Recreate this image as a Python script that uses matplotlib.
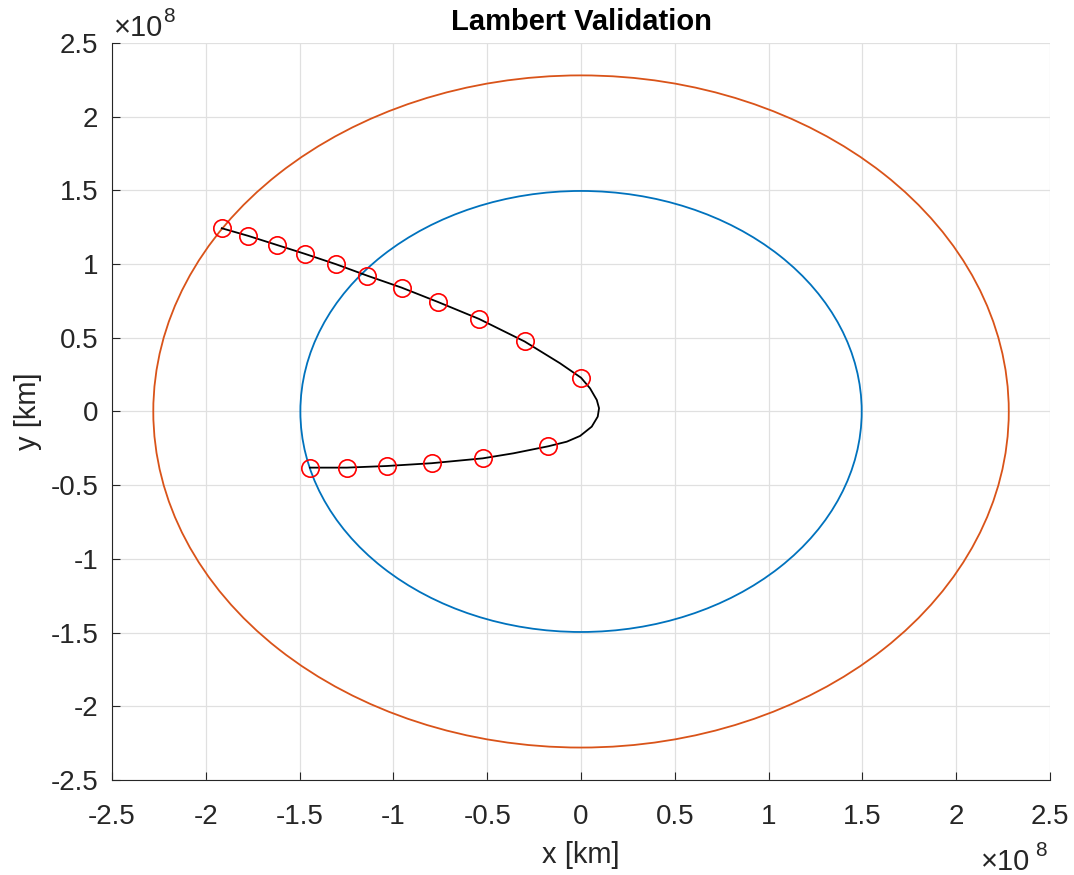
import matplotlib
matplotlib.use("Agg")
import matplotlib.pyplot as plt
from matplotlib.patches import Circle

# orbit radii [km]
EARTH_R = 1.496e8
MARS_R = 2.28e8

# transfer arc, units of 1e8 km
ARC_X = [-1.915, -1.773, -1.622, -1.471, -1.306, -1.139, -0.956, -0.763, -0.544, -0.301,
         -0.112, 0.0, 0.048, 0.084, 0.096, 0.089, 0.057, -0.005, -0.076, -0.174,
         -0.361, -0.524, -0.796, -1.036, -1.249, -1.445]
ARC_Y = [1.243, 1.191, 1.130, 1.069, 0.999, 0.921, 0.840, 0.743, 0.628, 0.475,
         0.327, 0.229, 0.157, 0.078, 0.022, -0.035, -0.103, -0.166, -0.205, -0.236,
         -0.284, -0.318, -0.351, -0.370, -0.381, -0.381]

# propagated check points, units of 1e8 km
CHECK_X = [-1.915, -1.773, -1.622, -1.471, -1.306, -1.139, -0.956, -0.763, -0.544, -0.301,
           0.0, -0.174, -0.524, -0.796, -1.036, -1.249, -1.445]
CHECK_Y = [1.243, 1.191, 1.130, 1.069, 0.999, 0.921, 0.840, 0.743, 0.628, 0.475,
           0.229, -0.236, -0.318, -0.351, -0.370, -0.381, -0.381]

TICKS = [-2.5, -2, -1.5, -1, -0.5, 0, 0.5, 1, 1.5, 2, 2.5]
TICK_LABELS = ["%g" % t for t in TICKS]
SCALE = 1e8
TEXT = "#262626"
W, H = 1074, 875

plt.rcParams["font.family"] = ["Liberation Sans", "DejaVu Sans"]
plt.rcParams["axes.unicode_minus"] = False

fig = plt.figure(figsize=(W / 100, H / 100), dpi=100)
ax = fig.add_axes([0.1043, 0.1086, 0.8734, 0.8423])

ax.add_patch(Circle((0, 0), EARTH_R, fill=False, color="#0072BD", lw=1.3))
ax.add_patch(Circle((0, 0), MARS_R, fill=False, color="#D95319", lw=1.3))

ax.plot([v * SCALE for v in ARC_X], [v * SCALE for v in ARC_Y], color="black", lw=1.3)
ax.plot([v * SCALE for v in CHECK_X], [v * SCALE for v in CHECK_Y], "o", ms=12.5,
        mfc="none", mec="red", mew=1.2)

ax.set_xlim(-2.5 * SCALE, 2.5 * SCALE)
ax.set_ylim(-2.5 * SCALE, 2.5 * SCALE)
ax.set_xticks([t * SCALE for t in TICKS])
ax.set_yticks([t * SCALE for t in TICKS])
ax.set_xticklabels(TICK_LABELS)
ax.set_yticklabels(TICK_LABELS)

ax.grid(True, color="#E0E0E0", lw=0.9)
ax.set_axisbelow(True)
for side in ["top", "right"]:
    ax.spines[side].set_visible(False)
for side in ["left", "bottom"]:
    ax.spines[side].set_color(TEXT)
ax.tick_params(direction="in", length=6, labelsize=20, colors=TEXT)
ax.tick_params(axis="x", pad=17)
ax.tick_params(axis="y", pad=10)

ax.set_xlabel("x [km]", fontsize=21, color=TEXT, labelpad=8)
ax.set_ylabel("y [km]", fontsize=21, color=TEXT, labelpad=6)
ax.set_title("Lambert Validation", fontsize=21, fontweight="bold", pad=9)

# exponent labels, placed like the MATLAB ones
fig.text(114 / W, 1 - 36 / H, "×10", fontsize=21, color=TEXT, ha="left", va="baseline")
fig.text(163 / W, 1 - 22 / H, "8", fontsize=15, color=TEXT, ha="left", va="baseline")
fig.text(1030 / W, 1 - 870 / H, "×10", fontsize=21, color=TEXT, ha="right", va="baseline")
fig.text(1035 / W, 1 - 856 / H, "8", fontsize=15, color=TEXT, ha="left", va="baseline")

fig.savefig("out.png", dpi=100)
